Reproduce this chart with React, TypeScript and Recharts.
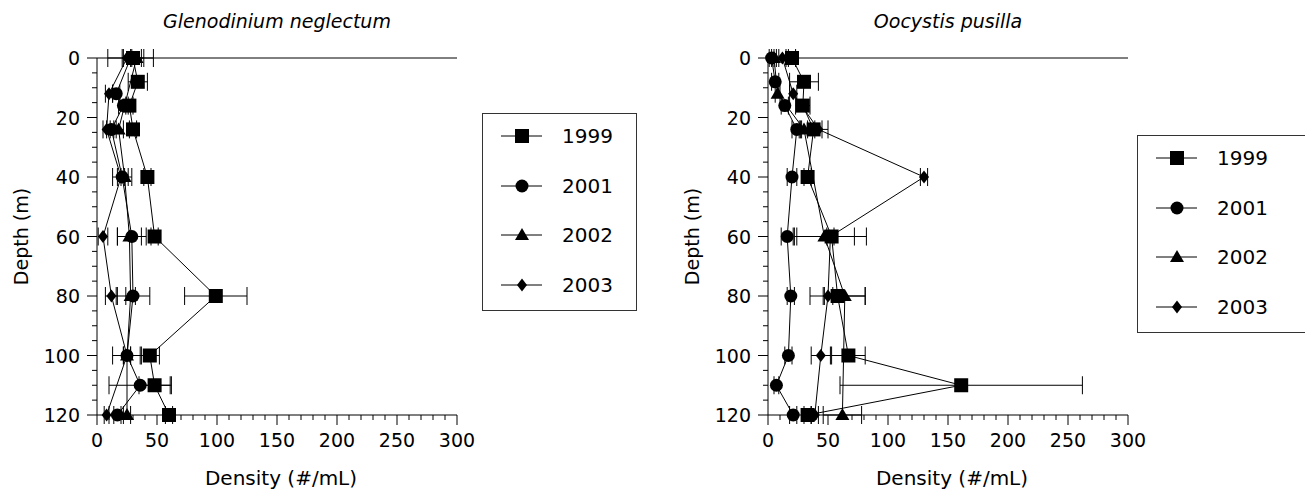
import React from "react";
import { ScatterChart, Scatter, XAxis, YAxis, ErrorBar, ReferenceLine, Legend } from "recharts";

const FONT = "'DejaVu Sans', sans-serif";

// sampling depths (m), shared by every series; null = not sampled
const depths = [0, 8, 12, 16, 24, 40, 60, 80, 100, 110, 120];
const years = ["1999", "2001", "2002", "2003"];

// Glenodinium neglectum, density (#/mL) and +/- error
const gn1999 = [30, 34, null, 27, 30, 42, 48, 99, 44, 48, 60];
const gn1999Err = [9, 8, null, 3, 3, 3, 3, 26, 8, 13, 3];
const gn2001 = [28, null, 16, 22, 12, 21, 29, 30, 25, 36, 17];
const gn2001Err = [19, null, 3, 4, 4, 8, 12, 14, 12, 26, 3];
const gn2002 = [33, null, null, null, 18, 23, 27, 28, 25, null, 25];
const gn2002Err = [4, null, null, null, 4, 3, 10, 4, 3, null, 3];
const gn2003 = [25, null, 10, null, 8, 20, 5, 12, 25, null, 8];
const gn2003Err = [3, null, 3, null, 3, 3, 4, 5, 3, null, 2];

// Oocystis pusilla
const op1999 = [20, 30, null, 29, 38, 33, 53, 58, 67, 161, 33];
const op1999Err = [3, 12, null, 6, 12, 3, 29, 23, 14, 101, 3];
const op2001 = [3, 6, null, 14, 24, 20, 16, 19, 17, 7, 21];
const op2001Err = [2, 3, null, 3, 4, 4, 5, 3, 3, 2, 3];
const op2002 = [5, null, 8, null, 30, null, 47, 64, null, null, 62];
const op2002Err = [2, null, 2, null, 3, null, 25, 17, null, null, 16];
const op2003 = [12, null, 21, null, 42, 130, 52, 50, 44, null, 39];
const op2003Err = [3, null, 3, null, 3, 3, 3, 4, 8, null, 3];

const xTicks = [0, 10, 20, 30, 40, 50, 60, 70, 80, 90, 100, 110, 120, 130, 140, 150, 160, 170, 180, 190, 200, 210, 220, 230, 240, 250, 260, 270, 280, 290, 300];
const yTicks = [0, 5, 10, 15, 20, 25, 30, 35, 40, 45, 50, 55, 60, 65, 70, 75, 80, 85, 90, 95, 100, 105, 110, 115, 120];

const rows = (vals: (number | null)[], errs: (number | null)[]) =>
    depths
        .map((d, i) => ({ depth: d, density: vals[i], err: errs[i] }))
        .filter((r) => r.density != null);

// marker shapes
const Square = ({ cx, cy }: any) => <rect x={cx - 7} y={cy - 7} width={14} height={14} fill="#000" />;
const Dot = ({ cx, cy }: any) => <circle cx={cx} cy={cy} r={6.5} fill="#000" />;
const Triangle = ({ cx, cy }: any) => (
    <polygon points={`${cx},${cy - 7} ${cx + 7},${cy + 5} ${cx - 7},${cy + 5}`} fill="#000" />
);
const Diamond = ({ cx, cy }: any) => (
    <polygon points={`${cx},${cy - 6.5} ${cx + 5},${cy} ${cx},${cy + 6.5} ${cx - 5},${cy}`} fill="#000" />
);
const shapes = [Square, Dot, Triangle, Diamond];

const XTick = ({ x, y, payload }: any) => {
    const major = payload.value % 50 === 0;
    return (
        <g>
            <line x1={x} y1={y} x2={x} y2={y + (major ? 10 : 5)} stroke="#000" />
            {major && (
                <text x={x} y={y + 32} textAnchor="middle" fontSize={19} fontFamily={FONT} fill="#000">
                    {payload.value}
                </text>
            )}
        </g>
    );
};

const YTick = ({ x, y, payload }: any) => {
    const major = payload.value % 20 === 0;
    return (
        <g>
            <line x1={x} y1={y} x2={x - (major ? 10 : 5)} y2={y} stroke="#000" />
            {major && (
                <text x={x - 17} y={y + 7} textAnchor="end" fontSize={19} fontFamily={FONT} fill="#000">
                    {payload.value}
                </text>
            )}
        </g>
    );
};

function LegendBox({ left, width }: { left: number; width: number }) {
    return (
        <div
            style={{
                width,
                height: 198,
                border: "1px solid #333",
                boxSizing: "border-box",
                background: "#fff",
                position: "relative",
            }}
        >
            {years.map((yr, i) => {
                const Shape = shapes[i];
                return (
                    <div key={yr} style={{ position: "absolute", left: 0, top: 22 + i * 49.7 - 12, height: 24, display: "flex", alignItems: "center" }}>
                        <svg width={70} height={24} style={{ display: "block" }}>
                            <line x1={left} y1={12} x2={left + 41} y2={12} stroke="#000" />
                            <Shape cx={left + 21} cy={12} />
                        </svg>
                        <span style={{ fontFamily: FONT, fontSize: 20, marginLeft: 9, color: "#000" }}>{yr}</span>
                    </div>
                );
            })}
        </div>
    );
}

type Panel = {
    title: string;
    vals: (number | null)[][];
    errs: (number | null)[][];
    width: number;
    legendLeft: number;
    legendTop: number;
    legendWidth: number;
};

function DepthPanel({ title, vals, errs, width, legendLeft, legendTop, legendWidth }: Panel) {
    return (
        <div style={{ position: "relative", width, height: 496 }}>
            <div
                style={{
                    position: "absolute",
                    left: 97,
                    width: 360,
                    top: 10,
                    textAlign: "center",
                    fontFamily: FONT,
                    fontStyle: "italic",
                    fontSize: 19,
                    color: "#000",
                    zIndex: 2,
                }}
            >
                {title}
            </div>
            <ScatterChart width={width} height={496} margin={{ top: 58, right: width - 457, bottom: 21, left: 37 }}>
                <XAxis
                    type="number"
                    dataKey="density"
                    domain={[0, 300]}
                    ticks={xTicks}
                    interval={0}
                    height={60}
                    tickSize={0}
                    tickMargin={0}
                    tick={<XTick />}
                    axisLine={{ stroke: "#000" }}
                    label={{
                        content: ({ viewBox }: any) => (
                            <text
                                x={viewBox.x + viewBox.width / 2 + 4}
                                y={viewBox.y + 70}
                                textAnchor="middle"
                                fontSize={20}
                                fontFamily={FONT}
                                fill="#000"
                            >
                                Density (#/mL)
                            </text>
                        ),
                    }}
                />
                <YAxis
                    type="number"
                    dataKey="depth"
                    domain={[0, 120]}
                    reversed
                    ticks={yTicks}
                    interval={0}
                    width={60}
                    tickSize={0}
                    tickMargin={0}
                    tick={<YTick />}
                    axisLine={{ stroke: "#000" }}
                    label={{
                        content: ({ viewBox }: any) => {
                            const lx = viewBox.x - 9;
                            const ly = viewBox.y + viewBox.height / 2;
                            return (
                                <text
                                    x={lx}
                                    y={ly}
                                    transform={`rotate(-90 ${lx} ${ly})`}
                                    textAnchor="middle"
                                    fontSize={19}
                                    fontFamily={FONT}
                                    fill="#000"
                                >
                                    Depth (m)
                                </text>
                            );
                        },
                    }}
                />
                <ReferenceLine y={0} stroke="#000" />
                {years.map((yr, i) => (
                    <Scatter
                        key={yr}
                        name={yr}
                        data={rows(vals[i], errs[i])}
                        line={{ stroke: "#000", strokeWidth: 1 }}
                        lineType="joint"
                        shape={shapes[i]}
                        isAnimationActive={false}
                    >
                        <ErrorBar dataKey="err" direction="x" width={9} stroke="#000" strokeWidth={1} />
                    </Scatter>
                ))}
                <Legend
                    layout="vertical"
                    align="center"
                    verticalAlign="middle"
                    wrapperStyle={{ left: legendLeft, top: legendTop, width: legendWidth, height: 198 }}
                    content={() => <LegendBox left={18} width={legendWidth} />}
                />
            </ScatterChart>
        </div>
    );
}

export default function App() {
    return (
        <div style={{ position: "absolute", left: 0, top: 0, width: 1305, height: 496, background: "#fff", overflow: "hidden" }}>
            <div style={{ position: "absolute", left: 0, top: 0 }}>
                <DepthPanel
                    title="Glenodinium neglectum"
                    vals={[gn1999, gn2001, gn2002, gn2003]}
                    errs={[gn1999Err, gn2001Err, gn2002Err, gn2003Err]}
                    width={660}
                    legendLeft={482}
                    legendTop={113}
                    legendWidth={155}
                />
            </div>
            <div style={{ position: "absolute", left: 671, top: 0 }}>
                <DepthPanel
                    title="Oocystis pusilla"
                    vals={[op1999, op2001, op2002, op2003]}
                    errs={[op1999Err, op2001Err, op2002Err, op2003Err]}
                    width={634}
                    legendLeft={466}
                    legendTop={135}
                    legendWidth={180}
                />
            </div>
        </div>
    );
}
